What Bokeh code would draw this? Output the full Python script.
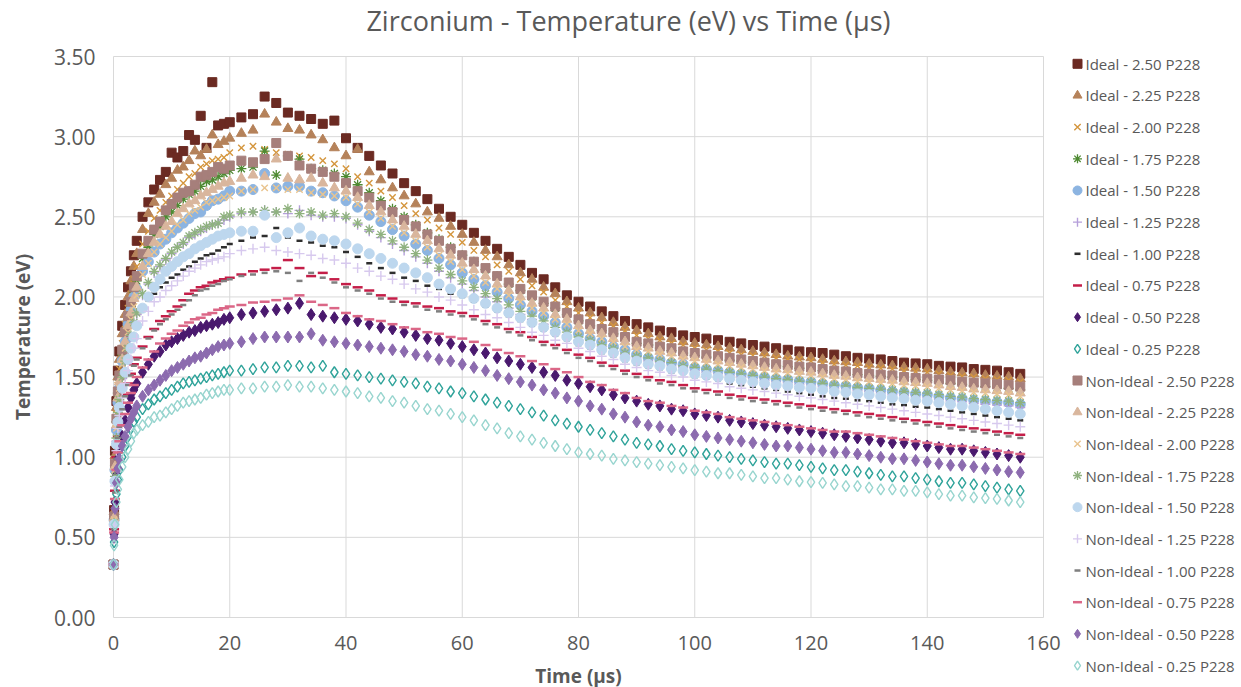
import math
from bokeh.plotting import figure
from bokeh.models import Range1d
from bokeh.core.properties import value
from bokeh.embed import file_html
from bokeh.resources import INLINE

# ---------------- data ----------------
time_us = [0, 0.1, 0.25, 0.5, 0.75, 1, 1.5, 2, 2.5, 3, 3.5, 4,
           5, 6, 7, 8, 9, 10, 11, 12, 13, 14, 15, 16, 17, 18, 19, 20,
           22, 24, 26, 28, 30, 32, 34, 36, 38,
           40, 42, 44, 46, 48, 50,
           52, 54, 56, 58, 60, 62, 64, 66, 68, 70,
           72, 74, 76, 78, 80, 82, 84, 86, 88, 90,
           92, 94, 96, 98, 100, 102, 104, 106, 108, 110,
           112, 114, 116, 118, 120, 122, 124, 126, 128, 130,
           132, 134, 136, 138, 140, 142, 144, 146, 148, 150,
           152, 154, 156]

ideal_250 = [0.33, 0.67, 1.04, 1.35, 1.54, 1.66, 1.82, 1.95, 2.06, 2.16, 2.26, 2.35,
             2.50, 2.59, 2.67, 2.73, 2.78, 2.90, 2.87, 2.91, 3.01, 2.98, 3.13, 2.93, 3.34, 3.07, 3.08, 3.09,
             3.12, 3.14, 3.25, 3.21, 3.15, 3.13, 3.11, 3.08, 3.10,
             2.99, 2.93, 2.88, 2.82, 2.77, 2.71,
             2.66, 2.61, 2.55, 2.50, 2.45, 2.40, 2.35, 2.30, 2.25, 2.20,
             2.15, 2.11, 2.06, 2.01, 1.97, 1.94, 1.91, 1.88, 1.85, 1.83,
             1.81, 1.79, 1.78, 1.76, 1.75, 1.74, 1.73, 1.72, 1.71, 1.70,
             1.69, 1.68, 1.67, 1.66, 1.655, 1.65, 1.64, 1.63, 1.62, 1.615,
             1.61, 1.60, 1.59, 1.585, 1.58, 1.57, 1.565, 1.56, 1.55, 1.545,
             1.54, 1.53, 1.52]

ideal_225 = [0.33, 0.66, 1.01, 1.31, 1.50, 1.61, 1.77, 1.89, 2.00, 2.10, 2.19, 2.27,
             2.42, 2.52, 2.59, 2.64, 2.70, 2.74, 2.79, 2.81, 2.85, 2.91, 2.88, 2.92, 3.01, 2.95, 2.97, 2.99,
             3.02, 3.04, 3.14, 3.09, 3.05, 3.04, 3.01, 2.98, 2.93,
             2.88, 2.92, 2.78, 2.73, 2.68, 2.63,
             2.58, 2.53, 2.49, 2.44, 2.39, 2.34, 2.29, 2.25, 2.20, 2.15,
             2.11, 2.06, 2.02, 1.97, 1.93, 1.90, 1.87, 1.84, 1.81, 1.79,
             1.77, 1.75, 1.74, 1.72, 1.71, 1.70, 1.69, 1.68, 1.67, 1.66,
             1.65, 1.64, 1.63, 1.625, 1.62, 1.61, 1.60, 1.595, 1.59, 1.58,
             1.575, 1.57, 1.56, 1.555, 1.55, 1.54, 1.53, 1.525, 1.52, 1.51,
             1.505, 1.50, 1.49]

ideal_200 = [0.33, 0.64, 0.98, 1.27, 1.45, 1.55, 1.71, 1.83, 1.93, 2.02, 2.11, 2.19,
             2.33, 2.41, 2.49, 2.54, 2.59, 2.63, 2.67, 2.71, 2.75, 2.77, 2.81, 2.83, 2.85, 2.86, 2.87, 2.90,
             2.93, 2.94, 2.92, 2.90, 2.89, 2.88, 2.87, 2.85, 2.83,
             2.80, 2.75, 2.71, 2.66, 2.62, 2.57,
             2.52, 2.48, 2.43, 2.39, 2.34, 2.29, 2.25, 2.20, 2.16, 2.11,
             2.07, 2.03, 1.98, 1.94, 1.90, 1.87, 1.84, 1.82, 1.79, 1.76,
             1.74, 1.73, 1.71, 1.70, 1.68, 1.67, 1.66, 1.65, 1.64, 1.635,
             1.63, 1.62, 1.615, 1.61, 1.60, 1.59, 1.58, 1.575, 1.57, 1.56,
             1.555, 1.55, 1.54, 1.535, 1.53, 1.52, 1.51, 1.505, 1.50, 1.49,
             1.485, 1.48, 1.47]

ideal_175 = [0.33, 0.63, 0.95, 1.22, 1.40, 1.50, 1.64, 1.76, 1.86, 1.94, 2.03, 2.10,
             2.24, 2.31, 2.39, 2.44, 2.50, 2.53, 2.57, 2.61, 2.64, 2.66, 2.69, 2.72, 2.73, 2.75, 2.77, 2.79,
             2.80, 2.81, 2.91, 2.76, 2.88, 2.86, 2.80, 2.79, 2.77,
             2.75, 2.70, 2.65, 2.60, 2.55, 2.50,
             2.45, 2.40, 2.36, 2.31, 2.26, 2.22, 2.17, 2.13, 2.08, 2.04,
             2.00, 1.96, 1.93, 1.89, 1.85, 1.82, 1.79, 1.77, 1.74, 1.71,
             1.70, 1.68, 1.665, 1.65, 1.635, 1.625, 1.615, 1.605, 1.60, 1.59,
             1.58, 1.57, 1.565, 1.555, 1.55, 1.54, 1.53, 1.525, 1.515, 1.51,
             1.505, 1.50, 1.49, 1.485, 1.48, 1.47, 1.46, 1.455, 1.445, 1.44,
             1.435, 1.43, 1.42]

ideal_150 = [0.33, 0.61, 0.92, 1.17, 1.34, 1.43, 1.60, 1.72, 1.83, 1.92, 2.00, 2.05,
             2.16, 2.22, 2.28, 2.33, 2.36, 2.40, 2.43, 2.46, 2.49, 2.52, 2.53, 2.57, 2.60, 2.61, 2.63, 2.66,
             2.66, 2.67, 2.77, 2.68, 2.69, 2.69, 2.66, 2.65, 2.63,
             2.60, 2.56, 2.51, 2.47, 2.42, 2.38,
             2.33, 2.29, 2.24, 2.20, 2.15, 2.11, 2.07, 2.03, 1.99, 1.95,
             1.91, 1.88, 1.84, 1.81, 1.77, 1.74, 1.72, 1.69, 1.67, 1.64,
             1.62, 1.61, 1.59, 1.58, 1.56, 1.55, 1.54, 1.53, 1.52, 1.51,
             1.50, 1.49, 1.485, 1.475, 1.47, 1.46, 1.45, 1.445, 1.435, 1.43,
             1.42, 1.41, 1.405, 1.395, 1.39, 1.38, 1.37, 1.365, 1.355, 1.35,
             1.345, 1.34, 1.33]

ideal_125 = [0.33, 0.58, 0.86, 1.10, 1.26, 1.35, 1.49, 1.59, 1.67, 1.75, 1.83, 1.89,
             2.01, 2.08, 2.15, 2.19, 2.23, 2.27, 2.31, 2.33, 2.37, 2.39, 2.41, 2.43, 2.45, 2.46, 2.48, 2.50,
             2.52, 2.53, 2.54, 2.53, 2.52, 2.54, 2.51, 2.50, 2.50,
             2.49, 2.45, 2.41, 2.37, 2.33, 2.29,
             2.25, 2.21, 2.16, 2.12, 2.08, 2.04, 2.00, 1.97, 1.93, 1.89,
             1.86, 1.83, 1.79, 1.76, 1.73, 1.71, 1.69, 1.66, 1.64, 1.62,
             1.60, 1.59, 1.57, 1.56, 1.54, 1.53, 1.52, 1.51, 1.50, 1.49,
             1.48, 1.47, 1.465, 1.455, 1.45, 1.44, 1.43, 1.425, 1.415, 1.41,
             1.40, 1.39, 1.385, 1.375, 1.37, 1.36, 1.35, 1.345, 1.335, 1.33,
             1.325, 1.32, 1.31]

ideal_100 = [0.33, 0.58, 0.85, 1.08, 1.22, 1.30, 1.43, 1.52, 1.60, 1.68, 1.75, 1.81,
             1.92, 1.98, 2.02, 2.06, 2.09, 2.12, 2.14, 2.17, 2.19, 2.22, 2.24, 2.26, 2.27, 2.29, 2.31, 2.33,
             2.35, 2.37, 2.38, 2.43, 2.37, 2.35, 2.34, 2.32, 2.31,
             2.28, 2.25, 2.21, 2.18, 2.15, 2.12,
             2.10, 2.07, 2.05, 2.02, 2.00, 1.97, 1.94, 1.91, 1.88, 1.85,
             1.82, 1.79, 1.76, 1.73, 1.70, 1.68, 1.65, 1.63, 1.60, 1.58,
             1.56, 1.55, 1.53, 1.52, 1.50, 1.49, 1.48, 1.46, 1.45, 1.44,
             1.43, 1.42, 1.41, 1.40, 1.39, 1.38, 1.37, 1.365, 1.355, 1.35,
             1.34, 1.33, 1.325, 1.315, 1.31, 1.30, 1.29, 1.28, 1.27, 1.26,
             1.25, 1.24, 1.23]

ideal_075 = [0.33, 0.55, 0.79, 1.00, 1.13, 1.20, 1.31, 1.39, 1.46, 1.52, 1.58, 1.62,
             1.69, 1.75, 1.80, 1.85, 1.88, 1.91, 1.94, 1.98, 2.02, 2.04, 2.06, 2.07, 2.09, 2.10, 2.11, 2.12,
             2.14, 2.16, 2.17, 2.18, 2.23, 2.18, 2.13, 2.15, 2.11,
             2.08, 2.06, 2.04, 2.01, 1.99, 1.97,
             1.96, 1.94, 1.93, 1.91, 1.90, 1.88, 1.85, 1.83, 1.80, 1.78,
             1.75, 1.72, 1.70, 1.67, 1.64, 1.62, 1.59, 1.57, 1.54, 1.52,
             1.50, 1.48, 1.47, 1.45, 1.43, 1.42, 1.41, 1.39, 1.38, 1.37,
             1.36, 1.35, 1.34, 1.33, 1.32, 1.31, 1.30, 1.29, 1.28, 1.27,
             1.26, 1.25, 1.24, 1.23, 1.22, 1.21, 1.20, 1.19, 1.18, 1.17,
             1.16, 1.15, 1.14]

ideal_050 = [0.33, 0.52, 0.72, 0.89, 0.99, 1.05, 1.13, 1.23, 1.31, 1.37, 1.42, 1.46,
             1.53, 1.58, 1.63, 1.66, 1.70, 1.72, 1.74, 1.76, 1.78, 1.79, 1.81, 1.82, 1.83, 1.84, 1.86, 1.87,
             1.89, 1.90, 1.91, 1.92, 1.93, 1.96, 1.89, 1.88, 1.87,
             1.86, 1.85, 1.83, 1.81, 1.80, 1.78,
             1.76, 1.74, 1.73, 1.71, 1.69, 1.67, 1.65, 1.62, 1.60, 1.58,
             1.56, 1.53, 1.51, 1.48, 1.46, 1.44, 1.42, 1.39, 1.37, 1.35,
             1.33, 1.32, 1.30, 1.29, 1.27, 1.26, 1.25, 1.23, 1.22, 1.21,
             1.20, 1.19, 1.18, 1.17, 1.16, 1.15, 1.14, 1.13, 1.12, 1.11,
             1.10, 1.09, 1.09, 1.08, 1.07, 1.06, 1.05, 1.05, 1.04, 1.03,
             1.02, 1.01, 1.00]

ideal_025 = [0.33, 0.47, 0.62, 0.77, 0.86, 0.92, 1.00, 1.07, 1.13, 1.18, 1.22, 1.25,
             1.30, 1.33, 1.36, 1.38, 1.40, 1.42, 1.44, 1.46, 1.47, 1.48, 1.49, 1.50, 1.51, 1.52, 1.53, 1.54,
             1.54, 1.55, 1.56, 1.56, 1.57, 1.57, 1.56, 1.57, 1.53,
             1.52, 1.51, 1.50, 1.49, 1.48, 1.47,
             1.46, 1.44, 1.43, 1.41, 1.40, 1.38, 1.36, 1.34, 1.32, 1.30,
             1.28, 1.26, 1.23, 1.21, 1.19, 1.17, 1.15, 1.13, 1.11, 1.09,
             1.08, 1.07, 1.05, 1.04, 1.03, 1.02, 1.01, 1.00, 0.99, 0.98,
             0.97, 0.96, 0.96, 0.95, 0.94, 0.93, 0.92, 0.92, 0.91, 0.90,
             0.89, 0.88, 0.88, 0.87, 0.86, 0.85, 0.84, 0.84, 0.83, 0.82,
             0.81, 0.80, 0.79]

nonideal_250 = [0.33, 0.63, 0.96, 1.24, 1.41, 1.51, 1.67, 1.78, 1.88, 1.97, 2.06, 2.13,
                2.27, 2.35, 2.42, 2.47, 2.54, 2.58, 2.62, 2.65, 2.66, 2.70, 2.75, 2.76, 2.78, 2.81, 2.80, 2.82,
                2.85, 2.84, 2.86, 2.96, 2.88, 2.82, 2.80, 2.78, 2.75,
                2.71, 2.66, 2.62, 2.57, 2.53, 2.48,
                2.44, 2.39, 2.35, 2.30, 2.26, 2.22, 2.18, 2.13, 2.09, 2.05,
                2.01, 1.97, 1.94, 1.90, 1.86, 1.83, 1.80, 1.78, 1.75, 1.72,
                1.71, 1.69, 1.68, 1.66, 1.65, 1.64, 1.63, 1.62, 1.61, 1.60,
                1.59, 1.58, 1.575, 1.565, 1.56, 1.55, 1.54, 1.535, 1.525, 1.52,
                1.515, 1.51, 1.50, 1.495, 1.49, 1.485, 1.48, 1.47, 1.465, 1.46,
                1.455, 1.45, 1.44]

nonideal_225 = [0.33, 0.62, 0.94, 1.20, 1.37, 1.47, 1.61, 1.72, 1.82, 1.90, 1.99, 2.06,
                2.19, 2.27, 2.34, 2.39, 2.44, 2.47, 2.52, 2.55, 2.58, 2.60, 2.63, 2.65, 2.67, 2.69, 2.71, 2.72,
                2.74, 2.76, 2.75, 2.86, 2.74, 2.73, 2.74, 2.71, 2.68,
                2.66, 2.62, 2.57, 2.53, 2.48, 2.44,
                2.39, 2.35, 2.30, 2.26, 2.21, 2.17, 2.13, 2.08, 2.04, 2.00,
                1.96, 1.93, 1.89, 1.86, 1.82, 1.79, 1.77, 1.74, 1.72, 1.69,
                1.68, 1.66, 1.65, 1.63, 1.62, 1.61, 1.60, 1.59, 1.58, 1.57,
                1.56, 1.55, 1.545, 1.535, 1.53, 1.52, 1.51, 1.505, 1.495, 1.49,
                1.485, 1.48, 1.47, 1.465, 1.46, 1.45, 1.44, 1.435, 1.425, 1.42,
                1.415, 1.41, 1.40]

nonideal_200 = [0.33, 0.61, 0.92, 1.18, 1.34, 1.43, 1.58, 1.68, 1.78, 1.86, 1.94, 2.01,
                2.14, 2.21, 2.28, 2.33, 2.37, 2.41, 2.45, 2.48, 2.52, 2.54, 2.56, 2.59, 2.60, 2.61, 2.62, 2.63,
                2.66, 2.67, 2.68, 2.68, 2.67, 2.67, 2.65, 2.64, 2.63,
                2.62, 2.58, 2.53, 2.49, 2.44, 2.40,
                2.35, 2.31, 2.26, 2.22, 2.17, 2.13, 2.09, 2.05, 2.01, 1.97,
                1.93, 1.90, 1.86, 1.83, 1.79, 1.77, 1.74, 1.72, 1.69, 1.67,
                1.66, 1.64, 1.63, 1.61, 1.60, 1.59, 1.58, 1.57, 1.56, 1.55,
                1.54, 1.53, 1.525, 1.515, 1.51, 1.50, 1.49, 1.485, 1.475, 1.47,
                1.465, 1.46, 1.45, 1.445, 1.44, 1.43, 1.42, 1.415, 1.405, 1.40,
                1.395, 1.39, 1.38]

nonideal_175 = [0.33, 0.59, 0.88, 1.12, 1.28, 1.36, 1.50, 1.60, 1.68, 1.76, 1.84, 1.90,
                2.02, 2.09, 2.16, 2.20, 2.24, 2.28, 2.31, 2.34, 2.38, 2.40, 2.42, 2.44, 2.45, 2.46, 2.50, 2.51,
                2.53, 2.53, 2.54, 2.53, 2.55, 2.52, 2.53, 2.51, 2.52,
                2.50, 2.46, 2.42, 2.39, 2.35, 2.31,
                2.27, 2.23, 2.18, 2.14, 2.10, 2.06, 2.02, 1.99, 1.95, 1.91,
                1.88, 1.85, 1.81, 1.78, 1.75, 1.73, 1.70, 1.68, 1.65, 1.63,
                1.62, 1.60, 1.59, 1.57, 1.56, 1.55, 1.54, 1.53, 1.52, 1.51,
                1.50, 1.49, 1.485, 1.475, 1.47, 1.46, 1.45, 1.445, 1.435, 1.43,
                1.425, 1.42, 1.41, 1.405, 1.40, 1.39, 1.38, 1.375, 1.365, 1.36,
                1.355, 1.35, 1.34]

nonideal_150 = [0.33, 0.58, 0.85, 1.08, 1.22, 1.31, 1.43, 1.53, 1.61, 1.68, 1.75, 1.82,
                1.93, 2.00, 2.06, 2.11, 2.16, 2.19, 2.22, 2.25, 2.27, 2.30, 2.32, 2.34, 2.36, 2.38, 2.39, 2.40,
                2.41, 2.41, 2.51, 2.37, 2.40, 2.43, 2.38, 2.36, 2.35,
                2.33, 2.30, 2.27, 2.24, 2.21, 2.18,
                2.15, 2.12, 2.08, 2.05, 2.02, 1.99, 1.96, 1.93, 1.90, 1.87,
                1.84, 1.81, 1.78, 1.75, 1.72, 1.70, 1.67, 1.65, 1.62, 1.60,
                1.58, 1.57, 1.55, 1.54, 1.52, 1.51, 1.50, 1.49, 1.48, 1.47,
                1.46, 1.45, 1.445, 1.435, 1.43, 1.42, 1.41, 1.405, 1.395, 1.39,
                1.38, 1.37, 1.365, 1.355, 1.35, 1.34, 1.33, 1.32, 1.31, 1.30,
                1.29, 1.28, 1.27]

nonideal_125 = [0.33, 0.57, 0.82, 1.04, 1.18, 1.26, 1.37, 1.46, 1.54, 1.61, 1.68, 1.74,
                1.85, 1.91, 1.97, 2.00, 2.04, 2.07, 2.10, 2.13, 2.16, 2.18, 2.20, 2.22, 2.23, 2.24, 2.25, 2.27,
                2.29, 2.30, 2.31, 2.29, 2.28, 2.27, 2.26, 2.24, 2.23,
                2.21, 2.18, 2.16, 2.13, 2.11, 2.08,
                2.05, 2.03, 2.00, 1.98, 1.95, 1.92, 1.89, 1.87, 1.84, 1.81,
                1.78, 1.76, 1.73, 1.71, 1.68, 1.66, 1.63, 1.61, 1.58, 1.56,
                1.54, 1.53, 1.51, 1.50, 1.48, 1.47, 1.46, 1.44, 1.43, 1.42,
                1.41, 1.40, 1.39, 1.38, 1.37, 1.36, 1.35, 1.34, 1.33, 1.32,
                1.31, 1.30, 1.29, 1.28, 1.27, 1.26, 1.25, 1.24, 1.23, 1.22,
                1.21, 1.20, 1.19]

nonideal_100 = [0.33, 0.55, 0.78, 0.99, 1.12, 1.19, 1.30, 1.38, 1.45, 1.51, 1.57, 1.61,
                1.68, 1.74, 1.79, 1.83, 1.86, 1.89, 1.92, 1.95, 1.98, 2.01, 2.04, 2.05, 2.07, 2.08, 2.10, 2.11,
                2.13, 2.14, 2.15, 2.16, 2.15, 2.10, 2.15, 2.12, 2.09,
                2.06, 2.04, 2.02, 1.99, 1.97, 1.95,
                1.94, 1.92, 1.91, 1.89, 1.88, 1.86, 1.83, 1.81, 1.78, 1.76,
                1.73, 1.70, 1.68, 1.65, 1.62, 1.60, 1.57, 1.55, 1.52, 1.50,
                1.48, 1.46, 1.45, 1.43, 1.41, 1.40, 1.39, 1.37, 1.36, 1.35,
                1.34, 1.33, 1.32, 1.31, 1.30, 1.29, 1.28, 1.27, 1.26, 1.25,
                1.24, 1.23, 1.22, 1.21, 1.20, 1.19, 1.18, 1.17, 1.16, 1.15,
                1.14, 1.13, 1.12]

nonideal_075 = [0.33, 0.53, 0.74, 0.92, 1.03, 1.10, 1.20, 1.27, 1.34, 1.40, 1.45, 1.50,
                1.56, 1.61, 1.66, 1.71, 1.74, 1.77, 1.79, 1.82, 1.84, 1.86, 1.87, 1.89, 1.90, 1.92, 1.93, 1.94,
                1.95, 1.965, 1.97, 1.98, 1.99, 2.01, 1.97, 1.95, 1.93,
                1.90, 1.88, 1.86, 1.85, 1.83, 1.81,
                1.80, 1.78, 1.77, 1.75, 1.74, 1.72, 1.70, 1.67, 1.65, 1.63,
                1.60, 1.58, 1.55, 1.53, 1.50, 1.47, 1.45, 1.42, 1.40, 1.37,
                1.35, 1.34, 1.32, 1.31, 1.29, 1.28, 1.27, 1.25, 1.24, 1.23,
                1.22, 1.21, 1.20, 1.19, 1.18, 1.17, 1.16, 1.16, 1.15, 1.14,
                1.13, 1.12, 1.11, 1.10, 1.09, 1.08, 1.07, 1.07, 1.06, 1.05,
                1.04, 1.03, 1.02]

nonideal_050 = [0.33, 0.50, 0.68, 0.84, 0.93, 0.99, 1.07, 1.13, 1.19, 1.24, 1.28, 1.32,
                1.38, 1.42, 1.45, 1.48, 1.51, 1.54, 1.56, 1.58, 1.60, 1.62, 1.63, 1.65, 1.67, 1.69, 1.70, 1.71,
                1.72, 1.74, 1.75, 1.75, 1.75, 1.75, 1.77, 1.73, 1.72,
                1.71, 1.70, 1.69, 1.68, 1.67, 1.66,
                1.64, 1.63, 1.61, 1.60, 1.58, 1.56, 1.54, 1.51, 1.49, 1.47,
                1.45, 1.42, 1.40, 1.37, 1.35, 1.32, 1.30, 1.27, 1.25, 1.22,
                1.20, 1.19, 1.17, 1.16, 1.14, 1.13, 1.12, 1.11, 1.10, 1.09,
                1.08, 1.07, 1.07, 1.06, 1.05, 1.04, 1.03, 1.03, 1.02, 1.01,
                1.00, 0.99, 0.99, 0.98, 0.97, 0.96, 0.95, 0.95, 0.94, 0.93,
                0.92, 0.91, 0.905]

nonideal_025 = [0.33, 0.45, 0.58, 0.72, 0.80, 0.86, 0.94, 1.00, 1.05, 1.10, 1.15, 1.17,
                1.20, 1.22, 1.25, 1.26, 1.28, 1.30, 1.32, 1.34, 1.35, 1.36, 1.37, 1.39, 1.40, 1.41, 1.42, 1.42,
                1.43, 1.43, 1.44, 1.44, 1.45, 1.44, 1.44, 1.43, 1.42,
                1.41, 1.40, 1.38, 1.37, 1.35, 1.34,
                1.32, 1.30, 1.29, 1.27, 1.25, 1.23, 1.20, 1.18, 1.15, 1.13,
                1.11, 1.09, 1.07, 1.05, 1.03, 1.02, 1.01, 0.99, 0.98, 0.97,
                0.96, 0.95, 0.94, 0.93, 0.92, 0.91, 0.90, 0.90, 0.89, 0.88,
                0.87, 0.87, 0.86, 0.85, 0.845, 0.84, 0.83, 0.82, 0.82, 0.81,
                0.80, 0.80, 0.79, 0.79, 0.78, 0.77, 0.76, 0.76, 0.75, 0.745,
                0.74, 0.73, 0.72]

series_labels = ["Ideal - 2.50 P228", "Ideal - 2.25 P228", "Ideal - 2.00 P228", "Ideal - 1.75 P228",
                 "Ideal - 1.50 P228", "Ideal - 1.25 P228", "Ideal - 1.00 P228", "Ideal - 0.75 P228",
                 "Ideal - 0.50 P228", "Ideal - 0.25 P228",
                 "Non-Ideal - 2.50 P228", "Non-Ideal - 2.25 P228", "Non-Ideal - 2.00 P228",
                 "Non-Ideal - 1.75 P228", "Non-Ideal - 1.50 P228", "Non-Ideal - 1.25 P228",
                 "Non-Ideal - 1.00 P228", "Non-Ideal - 0.75 P228", "Non-Ideal - 0.50 P228",
                 "Non-Ideal - 0.25 P228"]
series_values = [ideal_250, ideal_225, ideal_200, ideal_175, ideal_150, ideal_125, ideal_100,
                 ideal_075, ideal_050, ideal_025,
                 nonideal_250, nonideal_225, nonideal_200, nonideal_175, nonideal_150, nonideal_125,
                 nonideal_100, nonideal_075, nonideal_050, nonideal_025]

x_ticks = [0, 20, 40, 60, 80, 100, 120, 140, 160]
x_tick_labels = ["0", "20", "40", "60", "80", "100", "120", "140", "160"]
y_ticks = [0, 0.5, 1.0, 1.5, 2.0, 2.5, 3.0, 3.5]
y_tick_labels = ["0.00", "0.50", "1.00", "1.50", "2.00", "2.50", "3.00", "3.50"]
chart_title = "Zirconium - Temperature (eV) vs Time (µs)"
x_title = "Time (µs)"
y_title = "Temperature (eV)"

# ---------------- styles ----------------
# (marker, color, size, filled, line width)
styles = [
    ("square",   "#6B2A22", 9,  True,  1.0),
    ("triangle", "#B5825A", 10, True,  1.0),
    ("x",        "#D4963E", 9,  False, 1.4),
    ("asterisk", "#4E8A32", 10, False, 1.3),
    ("circle",   "#8CB4E1", 10, True,  1.0),
    ("cross",    "#B59FDA", 10, False, 1.4),
    ("dash",     "#2E2E2E", 6,  False, 2.5),
    ("dash",     "#C41E48", 10, False, 2.5),
    ("diamond",  "#4A196E", 12, True,  1.0),
    ("diamond",  "#2FA39A", 11, False, 1.4),
    ("square",   "#A67F7B", 9,  True,  1.0),
    ("triangle", "#D9B69D", 10, True,  1.0),
    ("x",        "#E9C48F", 9,  False, 1.4),
    ("asterisk", "#8FB27F", 10, False, 1.3),
    ("circle",   "#BDD7EE", 10, True,  1.0),
    ("cross",    "#D7C9EE", 10, False, 1.4),
    ("dash",     "#7F7F7F", 6,  False, 2.5),
    ("dash",     "#DB6787", 10, False, 2.5),
    ("diamond",  "#8C6BAF", 12, True,  1.0),
    ("diamond",  "#98D5CF", 11, False, 1.4),
]

FONT = "Open Sans"
TXT = "#595959"
GRID = "#D9D9D9"

# ---------------- geometry (pixels) ----------------
W, H = 1241, 687
LEFT = 113            # plot area of the reference spans x 113..1043
PX_PER_X = 930 / 160  # pixels per microsecond
PLOT_TOP, PLOT_BOTTOM = 56, 617
PX_PER_Y = (PLOT_BOTTOM - PLOT_TOP) / 3.5


def dx(px):   # pixel column -> data x
    return (px - LEFT) / PX_PER_X


def dy(py):   # pixel row -> data y
    return (PLOT_BOTTOM - py) / PX_PER_Y


# the frame covers the whole canvas so that titles, tick labels and legend can be placed freely
p = figure(width=W, height=H,
           x_range=Range1d(dx(0), dx(W)), y_range=Range1d(dy(H), dy(0)),
           output_backend="svg", toolbar_location=None, tools="",
           x_axis_location=None, y_axis_location=None,
           min_border=0, min_border_left=0, min_border_right=0, min_border_top=0, min_border_bottom=0)
p.outline_line_color = None
p.background_fill_color = "white"
p.border_fill_color = "white"
p.grid.visible = False

# gridlines limited to the plot area
p.segment(x0=x_ticks, y0=[0] * len(x_ticks), x1=x_ticks, y1=[3.5] * len(x_ticks),
          line_color=GRID, line_width=1)
p.segment(x0=[0] * len(y_ticks), y0=y_ticks, x1=[160] * len(y_ticks), y1=y_ticks,
          line_color=GRID, line_width=1)

# tick labels
p.text(x=x_ticks, y=[dy(642)] * len(x_ticks), text=x_tick_labels, text_align="center",
       text_baseline="middle", text_font=value(FONT), text_font_size="20px", text_color=TXT)
p.text(x=[dx(95)] * len(y_ticks), y=y_ticks, text=y_tick_labels, text_align="right",
       text_baseline="middle", text_font=value(FONT), text_font_size="21px", text_color=TXT)

# axis titles
p.text(x=[80], y=[dy(675)], text=[x_title], text_align="center", text_baseline="middle",
       text_font=value(FONT), text_font_size="19px", text_font_style="bold", text_color=TXT)
p.text(x=[dx(22)], y=[1.75], text=[y_title], angle=math.pi / 2, text_align="center",
       text_baseline="middle", text_font=value(FONT), text_font_size="19px",
       text_font_style="bold", text_color=TXT)

# chart title
p.text(x=[dx(628)], y=[dy(20)], text=[chart_title], text_align="center", text_baseline="middle",
       text_font=value(FONT), text_font_size="27px", text_color=TXT)

# data series
for vals, (mk, col, sz, filled, lw) in zip(series_values, styles):
    n = min(len(time_us), len(vals))
    p.scatter(x=time_us[:n], y=vals[:n], marker=mk, size=sz,
              fill_color=col if filled else None, line_color=col, line_width=lw)

# legend at the right
for i, (label, (mk, col, sz, filled, lw)) in enumerate(zip(series_labels, styles)):
    yy = dy(63.3 + i * 31.67)
    p.scatter(x=[dx(1077)], y=[yy], marker=mk, size=min(sz, 9),
              fill_color=col if filled else None, line_color=col, line_width=lw)
    p.text(x=[dx(1085)], y=[yy], text=[label], text_align="left", text_baseline="middle",
           text_font=value(FONT), text_font_size="15px", text_color=TXT)

open("out.html", "w").write(file_html(p, INLINE))
